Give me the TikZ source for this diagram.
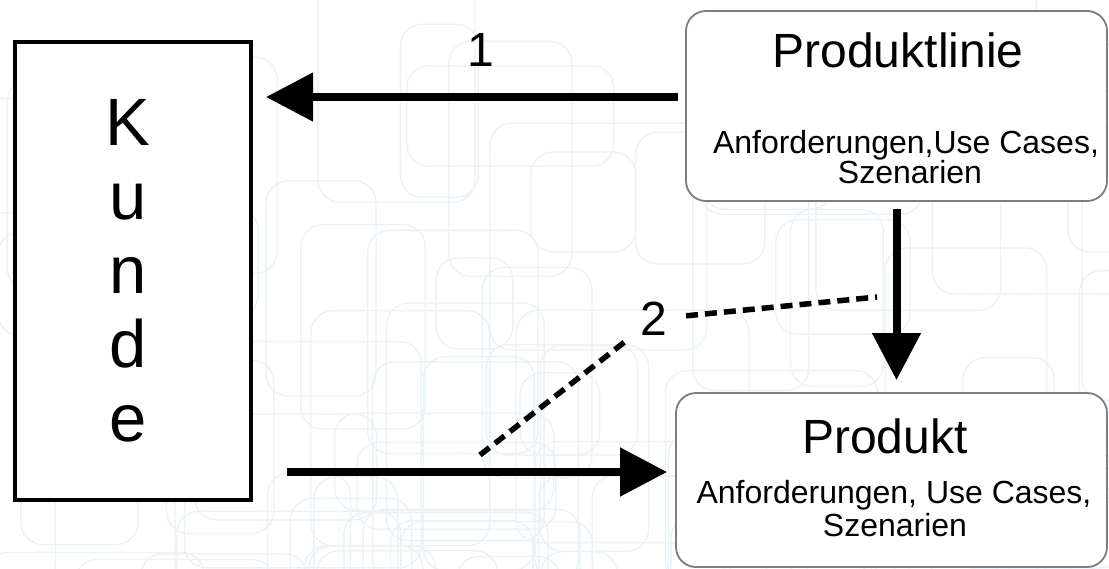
\documentclass[tikz,border=0pt]{standalone}
\usepackage{fontspec}
\setmainfont{Liberation Sans}
\usetikzlibrary{arrows.meta}

\definecolor{tileline}{RGB}{233,242,247}
\definecolor{boxgray}{RGB}{125,125,125}

\tikzset{
  kundebox/.style={draw=black, line width=4pt, fill=white,
    minimum width=236pt, minimum height=458pt, inner sep=0pt,
    align=center, font=\fontsize{67}{74}\selectfont},
  infobox/.style={draw=boxgray, line width=1.8pt, fill=white,
    rounded corners=20pt, inner sep=0pt},
  flow/.style={line width=8pt, -{Triangle[length=47pt,width=47pt]}},
  hint/.style={line width=5.5pt, dash pattern=on 12pt off 7pt},
  titletext/.style={font=\fontsize{48}{50}\selectfont, inner sep=0pt, anchor=base},
  subtext/.style={font=\fontsize{32}{30}\selectfont, inner sep=0pt, anchor=base},
  numtext/.style={font=\fontsize{48}{50}\selectfont, inner sep=0pt},
  bgtile/.style={draw=tileline, line width=1.3pt, rounded corners=22pt},
}

\begin{document}
\begin{tikzpicture}[x=1pt, y=-1pt]
  \useasboundingbox (0,0) rectangle (1109,568);
  \fill[white] (0,0) rectangle (1109,568);

  % faint tiled background
  \begin{scope}
    \clip (0,0) rectangle (1109,568);
    \pgfmathsetseed{12}
    \foreach \k in {1,...,85}{
      \pgfmathsetmacro\px{rnd*1150-40}
      \pgfmathsetmacro\py{rnd*600-30}
      \pgfmathsetmacro\pw{70+rnd*170}
      \pgfmathsetmacro\ph{70+rnd*170}
      \draw[bgtile] (\px,\py) rectangle ++(\pw,\ph);
    }
  \end{scope}

  % boxes
  \node[kundebox] (kunde) at (133,271) {\hspace*{-10pt}K\\\hspace*{-10pt}u\\\hspace*{-10pt}n\\\hspace*{-10pt}d\\\hspace*{-10pt}e};
  \node[infobox, minimum width=421pt, minimum height=190pt] (linie) at (896.5,106) {};
  \node[infobox, minimum width=431pt, minimum height=174pt] (produkt) at (891.5,480) {};

  % box texts
  \node[titletext] (linietitle) at (898,67) {Produktlinie};
  \node[subtext] (liniesubA) at (906,153) {Anforderungen,Use Cases,};
  \node[subtext] (liniesubB) at (910,183) {Szenarien};
  \node[titletext] (produkttitle) at (885,453) {Produkt};
  \node[subtext] (produktsubA) at (894,503) {Anforderungen, Use Cases,};
  \node[subtext] (produktsubB) at (895,536) {Szenarien};

  % step numbers
  \node[numtext] (one) at (481,50) {1};
  \node[numtext, circle, minimum size=64pt] (two) at (654,319) {2};

  % main flows
  \draw[flow, shorten <=7pt, shorten >=13pt]
    ([yshift=9pt]linie.west) -- ([yshift=9pt]linie.west -| kunde.east);
  \draw[flow, shorten <=7pt, shorten >=12pt]
    (linie.south) -- (linie.south |- produkt.north);
  \draw[flow, shorten <=34pt, shorten >=8pt]
    ([yshift=8pt]produkt.west -| kunde.east) -- ([yshift=8pt]produkt.west);

  % dashed hint for step 2
  \coordinate (hintA) at (480,455);
  \coordinate (hintB) at (877,297);
  \draw[hint] (hintA) -- (two);
  \draw[hint] (two) -- (hintB);
\end{tikzpicture}
\end{document}
